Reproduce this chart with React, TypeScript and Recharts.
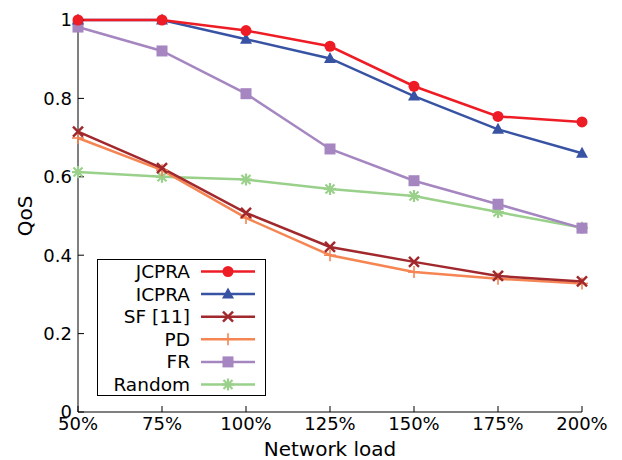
import { LineChart, Line, XAxis, YAxis, Legend, Label } from 'recharts'

const loads = [50, 75, 100, 125, 150, 175, 200]
const jcpra = [1.0, 1.0, 0.973, 0.933, 0.831, 0.754, 0.74]
const icpra = [1.0, 1.0, 0.951, 0.902, 0.806, 0.721, 0.66]
const sf11 = [0.715, 0.622, 0.508, 0.421, 0.383, 0.347, 0.333]
const pd = [0.699, 0.617, 0.495, 0.4, 0.357, 0.34, 0.328]
const fr = [0.982, 0.921, 0.812, 0.671, 0.59, 0.53, 0.469]
const random = [0.612, 0.6, 0.593, 0.569, 0.551, 0.51, 0.47]

const xTicks = [50, 75, 100, 125, 150, 175, 200]
const yTicks = [0, 0.2, 0.4, 0.6, 0.8, 1]

type Shape = 'circle' | 'triangle' | 'x' | 'plus' | 'square' | 'star'

const series: { key: string; name: string; color: string; shape: Shape }[] = [
  { key: 'jcpra', name: 'JCPRA', color: '#ee1d25', shape: 'circle' },
  { key: 'icpra', name: 'ICPRA', color: '#3953a4', shape: 'triangle' },
  { key: 'sf', name: 'SF [11]', color: '#a1282c', shape: 'x' },
  { key: 'pd', name: 'PD', color: '#f58553', shape: 'plus' },
  { key: 'fr', name: 'FR', color: '#a586c1', shape: 'square' },
  { key: 'random', name: 'Random', color: '#99d08a', shape: 'star' },
]

const data = loads.map((load, i) => ({
  load,
  jcpra: jcpra[i],
  icpra: icpra[i],
  sf: sf11[i],
  pd: pd[i],
  fr: fr[i],
  random: random[i],
}))

const FONT = 'DejaVu Sans, sans-serif'

function Marker({ cx, cy, color, shape }: { cx: number; cy: number; color: string; shape: Shape }) {
  if (cx == null || cy == null) return null
  switch (shape) {
    case 'circle':
      return <circle cx={cx} cy={cy} r={5.5} fill={color} />
    case 'triangle':
      return <polygon points={`${cx},${cy - 6.5} ${cx + 6},${cy + 4.5} ${cx - 6},${cy + 4.5}`} fill={color} />
    case 'x':
      return (
        <g stroke={color} strokeWidth={2.5}>
          <line x1={cx - 5} y1={cy - 5} x2={cx + 5} y2={cy + 5} />
          <line x1={cx - 5} y1={cy + 5} x2={cx + 5} y2={cy - 5} />
        </g>
      )
    case 'plus':
      return (
        <g stroke={color} strokeWidth={1.6}>
          <line x1={cx - 6} y1={cy} x2={cx + 6} y2={cy} />
          <line x1={cx} y1={cy - 6} x2={cx} y2={cy + 6} />
        </g>
      )
    case 'square':
      return <rect x={cx - 5.5} y={cy - 5.5} width={11} height={11} fill={color} />
    case 'star':
      return (
        <g stroke={color} strokeWidth={2.2}>
          <line x1={cx - 6} y1={cy} x2={cx + 6} y2={cy} />
          <line x1={cx} y1={cy - 6} x2={cx} y2={cy + 6} />
          <line x1={cx - 4.5} y1={cy - 4.5} x2={cx + 4.5} y2={cy + 4.5} />
          <line x1={cx - 4.5} y1={cy + 4.5} x2={cx + 4.5} y2={cy - 4.5} />
        </g>
      )
  }
  return null
}

function LegendBox() {
  const rowH = 22.6
  return (
    <svg width={169} height={137} style={{ display: 'block' }}>
      <rect x={0.5} y={0.5} width={168} height={136} fill="#fff" stroke="#000" strokeWidth={1} />
      {series.map((s, i) => {
        const y = 12.5 + i * rowH
        return (
          <g key={s.key}>
            <text x={93} y={y} textAnchor="end" dominantBaseline="central" fontFamily={FONT} fontSize={18.5} fill="#000">
              {s.name}
            </text>
            <line x1={104} y1={y} x2={158} y2={y} stroke={s.color} strokeWidth={2.5} />
            <Marker cx={131} cy={y} color={s.color} shape={s.shape} />
          </g>
        )
      })}
    </svg>
  )
}

const fmtY = (v: number) => (v === 0 ? '0' : v === 1 ? '1' : v.toFixed(1))

export default function App() {
  const tickStyle = { fontSize: 18, fill: '#000', fontFamily: FONT }
  return (
    <div style={{ position: 'absolute', left: 0, top: 0, background: '#fff' }}>
      <LineChart width={622} height={460} data={data} margin={{ top: 20, right: 40, bottom: 0, left: 18 }}>
        <XAxis
          dataKey="load"
          type="number"
          domain={[50, 200]}
          ticks={xTicks}
          tickFormatter={(v: number) => `${v}%`}
          tick={tickStyle}
          tickSize={-6}
          tickMargin={11}
          height={48}
          stroke="#000"
          interval={0}
        >
          <Label value="Network load" position="insideBottom" offset={4} style={{ fontSize: 20, fill: '#000', fontFamily: FONT }} />
        </XAxis>
        <XAxis
          xAxisId="top"
          orientation="top"
          dataKey="load"
          type="number"
          domain={[50, 200]}
          ticks={xTicks}
          tick={false}
          tickSize={-6}
          height={0}
          stroke="#000"
          interval={0}
        />
        <YAxis
          type="number"
          domain={[0, 1]}
          ticks={yTicks}
          tickFormatter={fmtY}
          tick={tickStyle}
          tickSize={-6}
          tickMargin={12}
          width={60}
          stroke="#000"
          interval={0}
        >
          <Label
            content={({ viewBox }: any) => (
              <text
                x={viewBox.x + 7}
                y={viewBox.y + viewBox.height / 2}
                transform={`rotate(-90 ${viewBox.x + 7} ${viewBox.y + viewBox.height / 2})`}
                textAnchor="middle"
                dominantBaseline="central"
                fontFamily={FONT}
                fontSize={20}
                fill="#000"
              >
                QoS
              </text>
            )}
          />
        </YAxis>
        <YAxis
          yAxisId="right"
          orientation="right"
          type="number"
          domain={[0, 1]}
          ticks={yTicks}
          tick={false}
          tickSize={-6}
          width={0}
          stroke="#000"
          interval={0}
        />
        {[...series].reverse().map((s) => (
          <Line
            key={s.key}
            dataKey={s.key}
            name={s.name}
            stroke={s.color}
            strokeWidth={2.5}
            isAnimationActive={false}
            dot={(p: any) => <Marker key={`${s.key}-${p.index}`} cx={p.cx} cy={p.cy} color={s.color} shape={s.shape} />}
            activeDot={false}
          />
        ))}
        <Legend
          layout="vertical"
          align="center"
          verticalAlign="middle"
          wrapperStyle={{ position: 'absolute', left: 97, top: 259, width: 169, height: 137 }}
          content={() => <LegendBox />}
        />
      </LineChart>
    </div>
  )
}
